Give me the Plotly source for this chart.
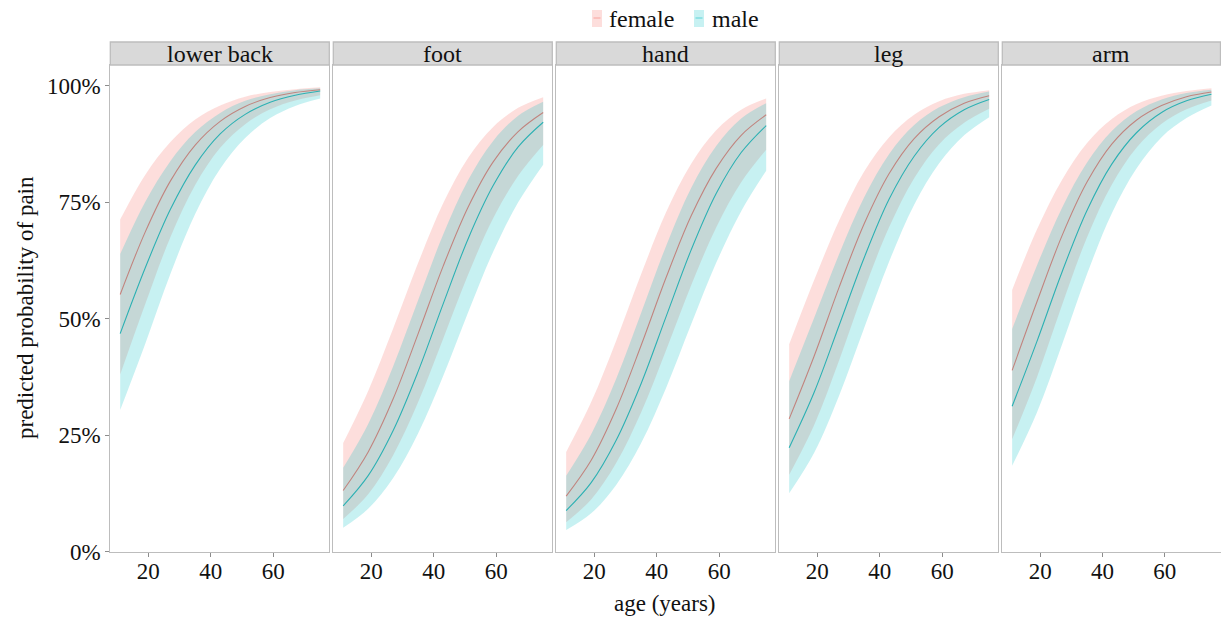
import plotly.graph_objects as go

W, H = 1221, 618

# ---------------- data ----------------
ages = [11, 19, 27, 35, 43, 51, 59, 67, 75]
panels = ["lower back", "foot", "hand", "leg", "arm"]
sexes = ["female", "male"]

lower_back_female_fit = [0.552, 0.686, 0.795, 0.873, 0.924, 0.956, 0.975, 0.986, 0.992]
lower_back_female_lo = [0.380, 0.531, 0.674, 0.787, 0.867, 0.918, 0.950, 0.969, 0.980]
lower_back_female_hi = [0.713, 0.809, 0.879, 0.928, 0.958, 0.977, 0.987, 0.993, 0.997]
lower_back_male_fit = [0.468, 0.609, 0.734, 0.830, 0.897, 0.939, 0.965, 0.980, 0.989]
lower_back_male_lo = [0.304, 0.446, 0.595, 0.725, 0.822, 0.888, 0.931, 0.957, 0.973]
lower_back_male_hi = [0.639, 0.751, 0.838, 0.901, 0.942, 0.968, 0.982, 0.991, 0.995]

foot_female_fit = [0.131, 0.214, 0.328, 0.468, 0.613, 0.740, 0.837, 0.902, 0.943]
foot_female_lo = [0.070, 0.123, 0.207, 0.321, 0.457, 0.595, 0.716, 0.807, 0.873]
foot_female_hi = [0.233, 0.345, 0.479, 0.620, 0.748, 0.846, 0.912, 0.953, 0.976]
foot_male_fit = [0.098, 0.163, 0.260, 0.387, 0.532, 0.672, 0.786, 0.869, 0.922]
foot_male_lo = [0.051, 0.092, 0.158, 0.254, 0.377, 0.514, 0.644, 0.750, 0.831]
foot_male_hi = [0.180, 0.274, 0.398, 0.540, 0.681, 0.798, 0.882, 0.936, 0.966]

hand_female_fit = [0.119, 0.196, 0.306, 0.443, 0.589, 0.721, 0.823, 0.894, 0.938]
hand_female_lo = [0.063, 0.112, 0.190, 0.299, 0.433, 0.572, 0.696, 0.793, 0.863]
hand_female_hi = [0.214, 0.321, 0.453, 0.596, 0.729, 0.833, 0.905, 0.949, 0.973]
hand_male_fit = [0.088, 0.148, 0.239, 0.361, 0.505, 0.648, 0.769, 0.857, 0.915]
hand_male_lo = [0.046, 0.082, 0.143, 0.233, 0.352, 0.488, 0.620, 0.731, 0.818]
hand_male_hi = [0.163, 0.252, 0.371, 0.513, 0.657, 0.781, 0.871, 0.930, 0.963]

leg_female_fit = [0.285, 0.420, 0.568, 0.704, 0.812, 0.887, 0.934, 0.963, 0.979]
leg_female_lo = [0.165, 0.272, 0.411, 0.562, 0.697, 0.802, 0.875, 0.921, 0.951]
leg_female_hi = [0.445, 0.583, 0.711, 0.816, 0.890, 0.938, 0.967, 0.983, 0.991]
leg_male_fit = [0.223, 0.342, 0.486, 0.631, 0.757, 0.849, 0.911, 0.949, 0.971]
leg_male_lo = [0.125, 0.212, 0.335, 0.480, 0.623, 0.745, 0.834, 0.894, 0.933]
leg_male_hi = [0.366, 0.502, 0.639, 0.761, 0.854, 0.916, 0.954, 0.976, 0.988]

arm_female_fit = [0.389, 0.537, 0.678, 0.793, 0.875, 0.927, 0.958, 0.977, 0.987]
arm_female_lo = [0.241, 0.375, 0.529, 0.674, 0.788, 0.868, 0.919, 0.950, 0.969]
arm_female_hi = [0.562, 0.692, 0.798, 0.877, 0.929, 0.961, 0.979, 0.989, 0.995]
arm_male_fit = [0.312, 0.452, 0.600, 0.732, 0.832, 0.900, 0.943, 0.968, 0.982]
arm_male_lo = [0.184, 0.299, 0.444, 0.595, 0.726, 0.823, 0.890, 0.931, 0.958]
arm_male_hi = [0.478, 0.615, 0.738, 0.835, 0.903, 0.946, 0.971, 0.985, 0.992]

x_ticks = [20, 40, 60]
y_ticks = [0, 0.25, 0.5, 0.75, 1.0]
y_ticklabels = ["0%", "25%", "50%", "75%", "100%"]

series = {
    ("lower back", "female"): (lower_back_female_fit, lower_back_female_lo, lower_back_female_hi),
    ("lower back", "male"): (lower_back_male_fit, lower_back_male_lo, lower_back_male_hi),
    ("foot", "female"): (foot_female_fit, foot_female_lo, foot_female_hi),
    ("foot", "male"): (foot_male_fit, foot_male_lo, foot_male_hi),
    ("hand", "female"): (hand_female_fit, hand_female_lo, hand_female_hi),
    ("hand", "male"): (hand_male_fit, hand_male_lo, hand_male_hi),
    ("leg", "female"): (leg_female_fit, leg_female_lo, leg_female_hi),
    ("leg", "male"): (leg_male_fit, leg_male_lo, leg_male_hi),
    ("arm", "female"): (arm_female_fit, arm_female_lo, arm_female_hi),
    ("arm", "male"): (arm_male_fit, arm_male_lo, arm_male_hi),
}

# ---------------- styling ----------------
FONT = "Liberation Serif, Times New Roman, DejaVu Serif, serif"
TXT = "#111111"
line_col = {"female": "#F8766D", "male": "#00BFC4"}
fill_col = {"female": "rgba(248,118,109,0.24)", "male": "rgba(0,191,196,0.22)"}
BORDER = "#BDBDBD"

def px(x):
    return x / W

def py(y):
    return 1 - y / H

panel_left0, panel_w, panel_step = 110.3, 219.0, 223.0
plot_top, plot_bottom = 65.0, 552.0
strip_top = 42.0

fig = go.Figure()
layout_axes = {}
shapes = []
annotations = []
spline = dict(shape="spline", smoothing=1.0)

for i, p in enumerate(panels):
    n = "" if i == 0 else str(i + 1)
    xa, ya = "x" + n, "y" + n
    x0 = panel_left0 + i * panel_step
    x1 = min(x0 + panel_w, W - 0.5)
    # lines first, then ribbons on top (as in the original)
    for s in sexes:
        fit, lo, hi = series[(p, s)]
        fig.add_trace(go.Scatter(
            x=ages, y=fit, mode="lines", xaxis=xa, yaxis=ya,
            line=dict(color=line_col[s], width=1.1, **spline),
            showlegend=False, hoverinfo="skip"))
    for s in sexes:
        fit, lo, hi = series[(p, s)]
        fig.add_trace(go.Scatter(
            x=ages, y=lo, mode="lines", line=dict(width=0, color=fill_col[s], **spline),
            xaxis=xa, yaxis=ya, showlegend=False, hoverinfo="skip"))
        fig.add_trace(go.Scatter(
            x=ages, y=hi, mode="lines", fill="tonexty", fillcolor=fill_col[s],
            line=dict(width=0, color=fill_col[s], **spline),
            xaxis=xa, yaxis=ya, showlegend=False, hoverinfo="skip"))

    layout_axes["xaxis" + n] = dict(
        domain=[px(x0), px(x1)], range=[7.84, 77.92], anchor=ya,
        tickvals=x_ticks, ticktext=[str(t) for t in x_ticks],
        ticks="outside", ticklen=4, tickcolor="#8c8c8c", tickwidth=1,
        ticklabelstandoff=-6,
        showgrid=False, zeroline=False, showline=True, mirror=True,
        linecolor=BORDER, linewidth=1.3,
        tickfont=dict(family=FONT, size=23, color=TXT), automargin=False)
    layout_axes["yaxis" + n] = dict(
        domain=[py(plot_bottom), py(plot_top)], range=[-0.001, 1.045], anchor=xa,
        tickvals=y_ticks, ticktext=y_ticklabels if i == 0 else [""] * 5,
        showticklabels=(i == 0),
        ticks="outside" if i == 0 else "", ticklen=4, tickcolor="#8c8c8c", tickwidth=1,
        showgrid=False, zeroline=False, showline=True, mirror=True,
        linecolor=BORDER, linewidth=1.3,
        tickfont=dict(family=FONT, size=23, color=TXT), automargin=False)

    # strip header
    shapes.append(dict(type="rect", xref="paper", yref="paper",
                       x0=px(x0), x1=px(x1), y0=py(plot_top), y1=py(strip_top),
                       fillcolor="#D9D9D9", line=dict(color=BORDER, width=1.3), layer="above"))
    annotations.append(dict(text=p, xref="paper", yref="paper",
                            x=px((x0 + x1) / 2), y=py((strip_top + plot_top) / 2 + 0.5),
                            showarrow=False, xanchor="center", yanchor="middle",
                            font=dict(family=FONT, size=24, color=TXT)))

# legend (manual, top centre)
legend_items = [("female", 592.0, 607.0), ("male", 694.0, 710.0)]
for s, sx, tx in legend_items:
    shapes.append(dict(type="rect", xref="paper", yref="paper",
                       x0=px(sx), x1=px(sx + 10), y0=py(27), y1=py(10),
                       fillcolor=fill_col[s], line=dict(width=0)))
    shapes.append(dict(type="line", xref="paper", yref="paper",
                       x0=px(sx + 1.5), x1=px(sx + 8.5), y0=py(18), y1=py(18),
                       line=dict(color=line_col[s], width=1.2), opacity=0.45))
    annotations.append(dict(text=s, xref="paper", yref="paper", x=px(tx), y=py(19),
                            showarrow=False, xanchor="left", yanchor="middle",
                            font=dict(family=FONT, size=24, color=TXT)))

# axis titles
annotations.append(dict(text="age (years)", xref="paper", yref="paper",
                        x=px(665), y=py(603), showarrow=False,
                        xanchor="center", yanchor="middle",
                        font=dict(family=FONT, size=23, color=TXT)))
annotations.append(dict(text="predicted probability of pain", xref="paper", yref="paper",
                        x=px(25), y=py(308), showarrow=False, textangle=-90,
                        xanchor="center", yanchor="middle",
                        font=dict(family=FONT, size=23, color=TXT)))

fig.update_layout(
    width=W, height=H,
    margin=dict(l=0, r=0, t=0, b=0),
    paper_bgcolor="white", plot_bgcolor="white",
    showlegend=False,
    shapes=shapes, annotations=annotations,
    **layout_axes)

fig.write_html("out.html", config={"displayModeBar": False},
               post_script="document.body.style.margin='0';document.body.style.overflow='hidden';")
